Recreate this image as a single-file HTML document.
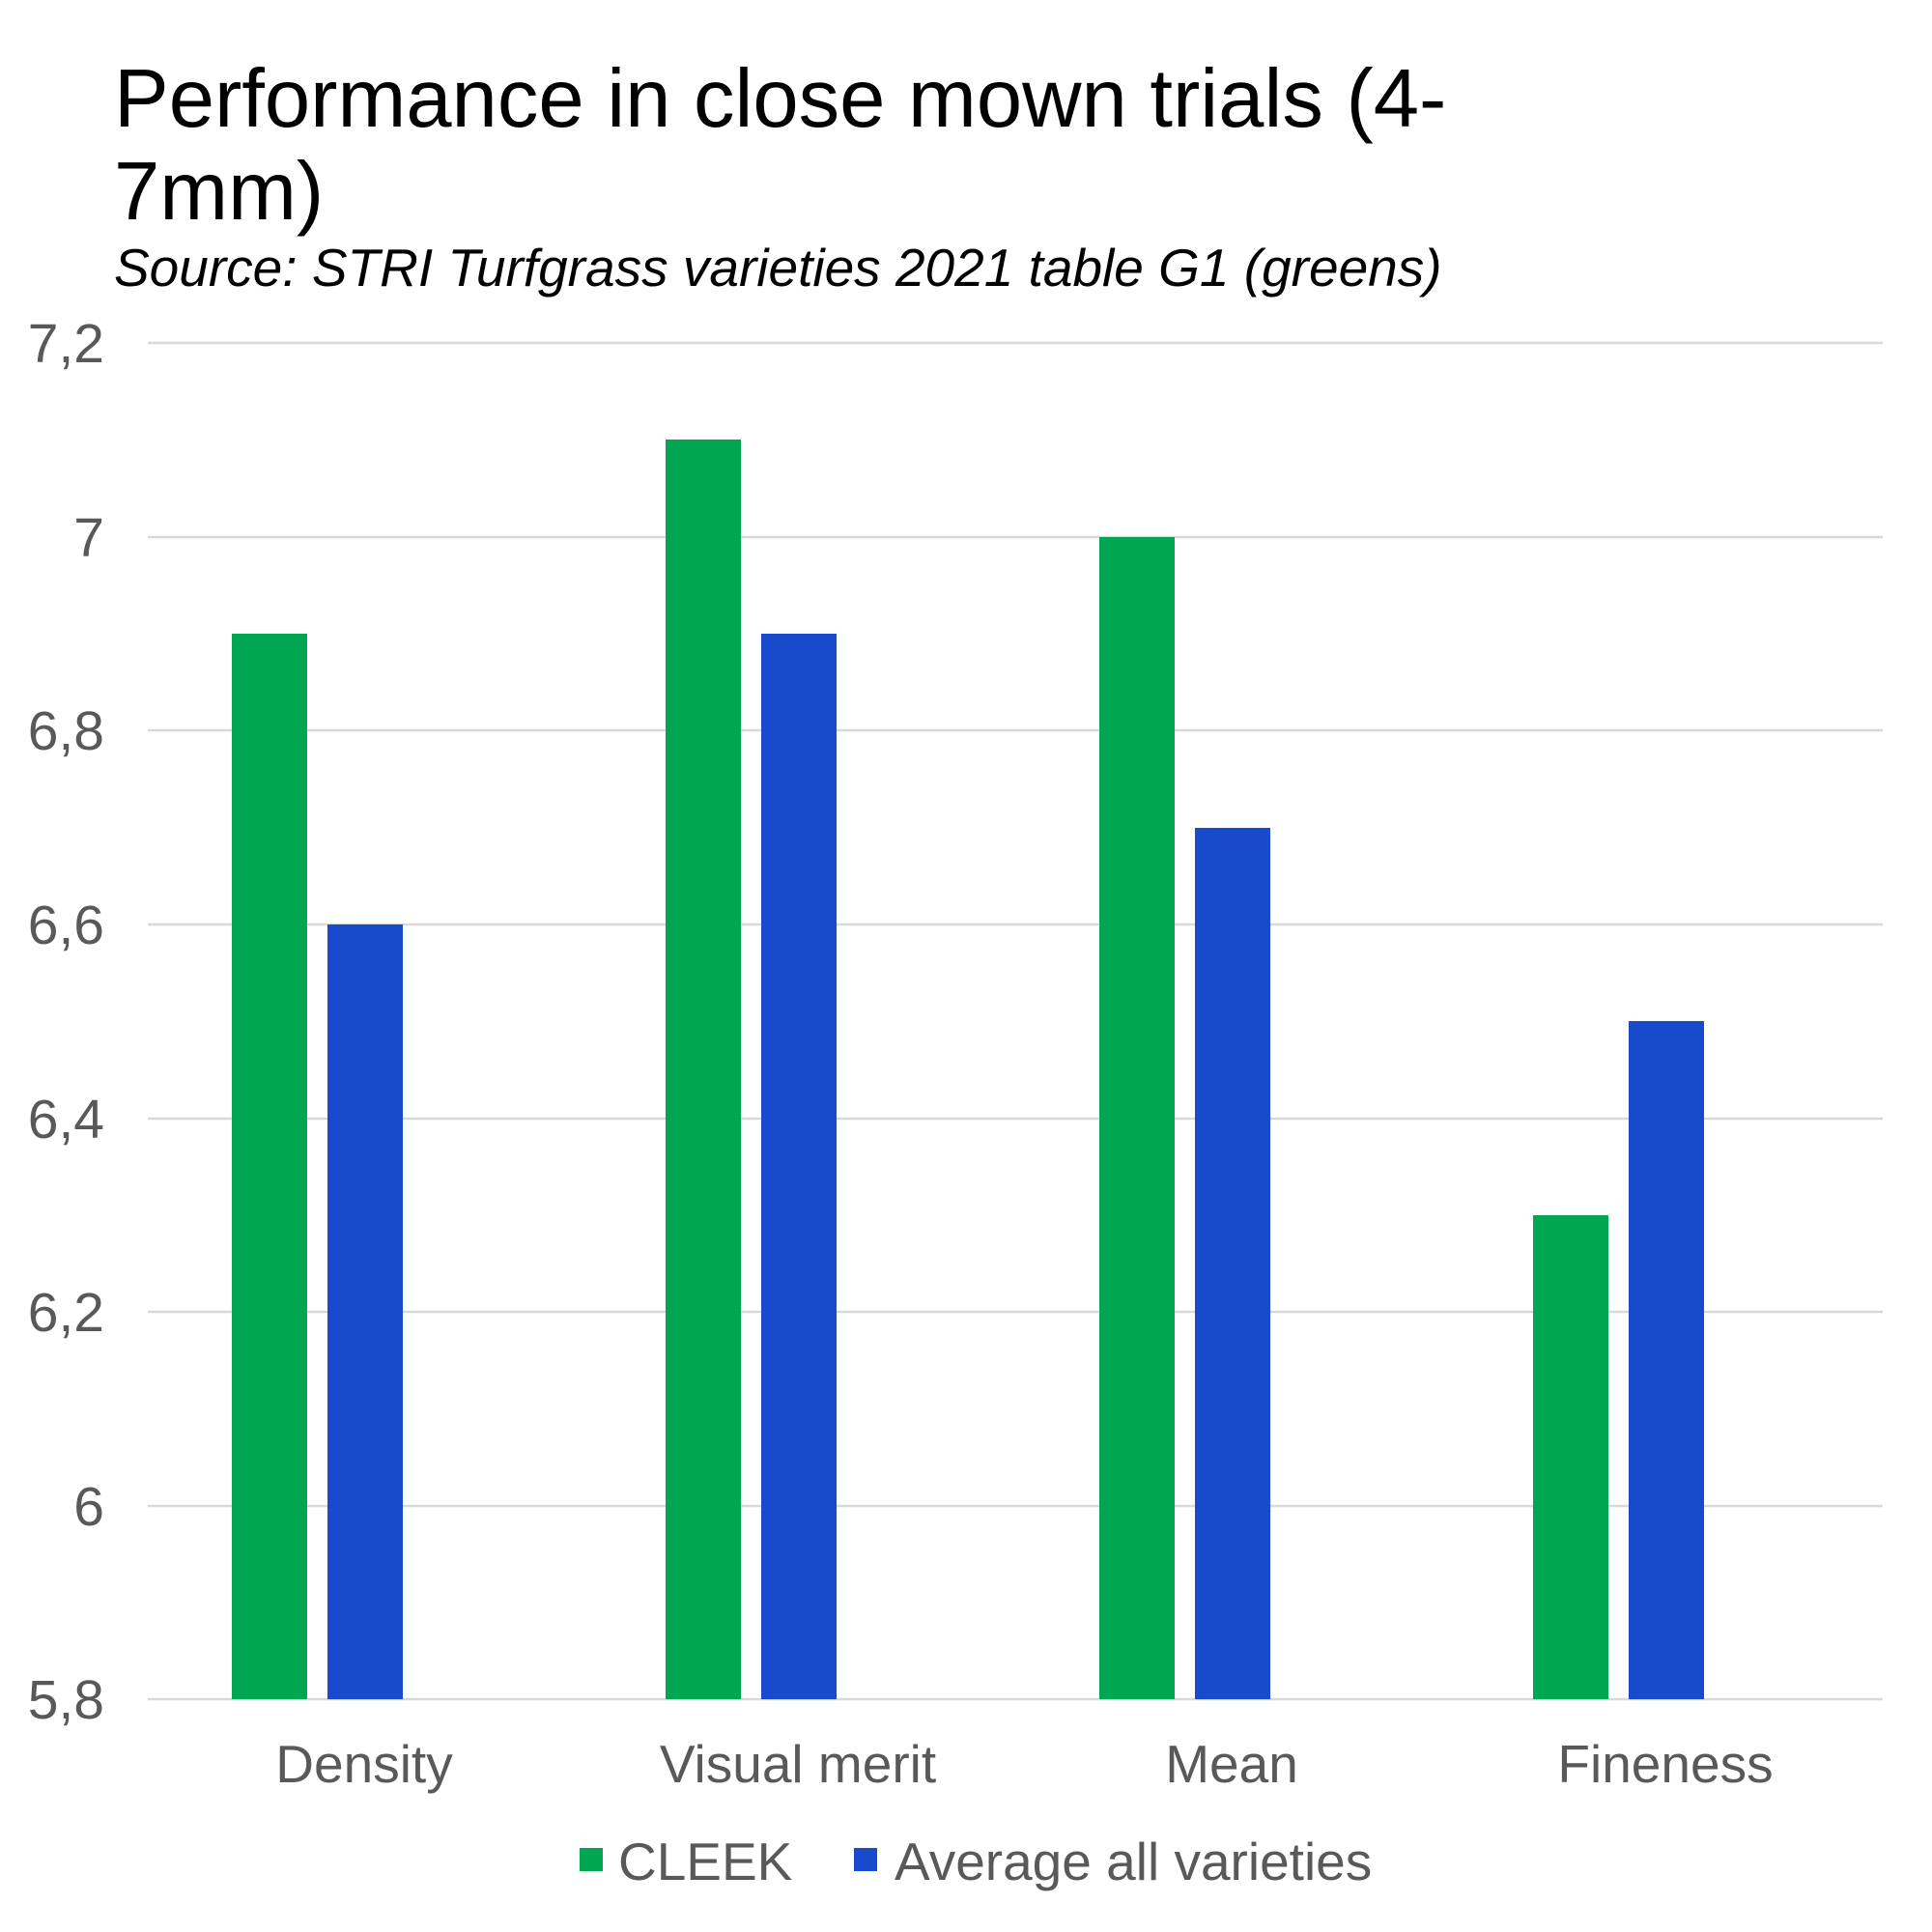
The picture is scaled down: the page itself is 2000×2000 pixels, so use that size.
<!DOCTYPE html>
<html><head><meta charset="utf-8"><style>html,body{margin:0;padding:0;background:#fff}svg{display:block}</style></head>
<body>
<svg width="2000" height="2000" viewBox="0 0 2000 2000" xmlns="http://www.w3.org/2000/svg" font-family="Liberation Sans, Arial, sans-serif">
<rect width="2000" height="2000" fill="#fff"/>
<text x="118" y="131" font-size="85" fill="#000">Performance in close mown trials (4-</text>
<text x="118" y="227" font-size="85" fill="#000">7mm)</text>
<text x="118" y="296" font-size="55" font-style="italic" fill="#000">Source: STRI Turfgrass varieties 2021 table G1 (greens)</text>
<g stroke="#d9d9d9" stroke-width="2.5">
<line x1="153" x2="1949" y1="355" y2="355"/>
<line x1="153" x2="1949" y1="556" y2="556"/>
<line x1="153" x2="1949" y1="756" y2="756"/>
<line x1="153" x2="1949" y1="957" y2="957"/>
<line x1="153" x2="1949" y1="1158" y2="1158"/>
<line x1="153" x2="1949" y1="1358" y2="1358"/>
<line x1="153" x2="1949" y1="1559" y2="1559"/>
<line x1="153" x2="1949" y1="1759" y2="1759"/>
</g>
<g font-size="57" fill="#595959" text-anchor="end">
<text x="108" y="375">7,2</text>
<text x="108" y="576">7</text>
<text x="108" y="776">6,8</text>
<text x="108" y="977">6,6</text>
<text x="108" y="1178">6,4</text>
<text x="108" y="1378">6,2</text>
<text x="108" y="1579">6</text>
<text x="108" y="1779">5,8</text>
</g>
<g fill="#00a651">
<rect x="240" y="656" width="78" height="1103"/>
<rect x="689" y="455" width="78" height="1304"/>
<rect x="1138" y="556" width="78" height="1203"/>
<rect x="1587" y="1258" width="78" height="501"/>
</g>
<g fill="#1a4acc">
<rect x="339" y="957" width="78" height="802"/>
<rect x="788" y="656" width="78" height="1103"/>
<rect x="1237" y="857" width="78" height="902"/>
<rect x="1686" y="1057" width="78" height="702"/>
</g>
<g font-size="55" fill="#595959" text-anchor="middle">
<text x="377" y="1845">Density</text>
<text x="826" y="1845">Visual merit</text>
<text x="1275" y="1845">Mean</text>
<text x="1724" y="1845">Fineness</text>
</g>
<rect x="600" y="1913" width="24" height="24" fill="#00a651"/>
<text x="640" y="1946" font-size="55" fill="#595959">CLEEK</text>
<rect x="884" y="1913" width="24" height="24" fill="#1a4acc"/>
<text x="926" y="1946" font-size="55" fill="#595959">Average all varieties</text>
</svg>
</body></html>
